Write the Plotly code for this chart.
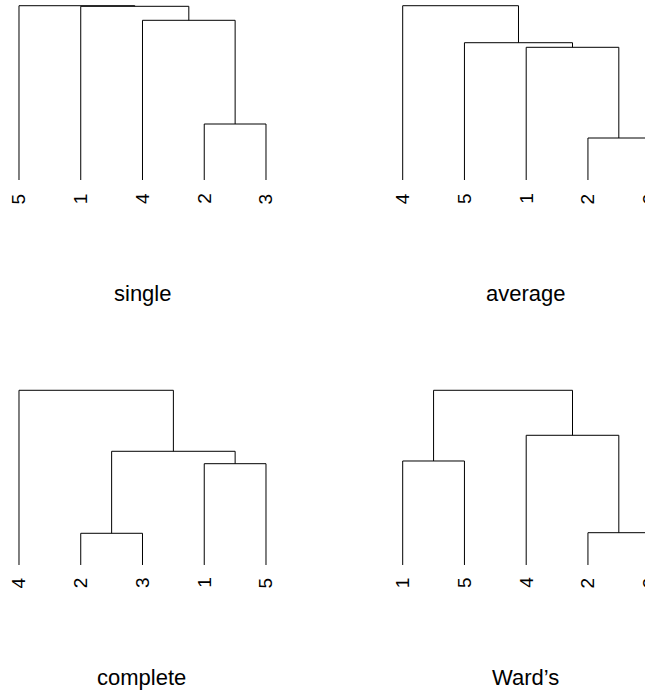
import plotly.graph_objects as go

# ---------------- data (R-style hclust results) ----------------
# merge: negative = singleton leaf label, positive = earlier merge step (1-based)
single_order = [5, 1, 4, 2, 3]
single_merge = [(-2, -3), (-4, 1), (-1, 2), (-5, 3)]
single_height = [56.0, 159.7, 173.7, 174.3]

average_order = [4, 5, 1, 2, 3]
average_merge = [(-2, -3), (-1, 1), (-5, 2), (-4, 3)]
average_height = [42.0, 132.7, 137.3, 174.3]

complete_order = [4, 2, 3, 1, 5]
complete_merge = [(-2, -3), (-1, -5), (1, 2), (-4, 3)]
complete_height = [31.7, 101.3, 113.7, 174.7]

ward_order = [1, 5, 4, 2, 3]
ward_merge = [(-2, -3), (-1, -5), (-4, 1), (2, 3)]
ward_height = [32.3, 104.0, 129.7, 174.7]

titles = ["single", "average", "complete", "Ward\u2019s"]

# ---------------- layout constants (pixels) ----------------
W, H = 645, 690
SP = 61.75          # spacing between leaves
FONT = "Liberation Sans, Arial, Helvetica, sans-serif"
LABEL_SIZE = 19
TITLE_SIZE = 22

panels = [
    dict(order=single_order, merge=single_merge, height=single_height,
         left=19.0, base=180.0, top=5.7, lab=198.5, tx=142.3, ty=293.0),
    dict(order=average_order, merge=average_merge, height=average_height,
         left=402.7, base=180.0, top=5.7, lab=198.5, tx=526.0, ty=293.0),
    dict(order=complete_order, merge=complete_merge, height=complete_height,
         left=19.0, base=565.0, top=390.3, lab=582.5, tx=141.5, ty=677.5),
    dict(order=ward_order, merge=ward_merge, height=ward_height,
         left=402.7, base=565.0, top=390.3, lab=582.5, tx=525.8, ty=677.5),
]

fig = go.Figure()
annotations = []
layout_axes = {}

for i, (p, title) in enumerate(zip(panels, titles), start=1):
    order, merge, hts = p["order"], p["merge"], p["height"]
    pos = {lab: j + 1 for j, lab in enumerate(order)}
    centers = []
    xs, ys = [], []
    for (a, b), h in zip(merge, hts):
        def node(n):
            if n < 0:
                return pos[-n], 0.0
            return centers[n - 1], hts[n - 1]
        xa, ya = node(a)
        xb, yb = node(b)
        if xa > xb:
            xa, ya, xb, yb = xb, yb, xa, ya
        xs += [xa, xa, xb, xb, None]
        ys += [ya, h, h, yb, None]
        centers.append((xa + xb) / 2.0)

    xa_name = "x" if i == 1 else f"x{i}"
    ya_name = "y" if i == 1 else f"y{i}"
    fig.add_trace(go.Scatter(x=xs, y=ys, mode="lines",
                             line=dict(color="black", width=1),
                             xaxis=xa_name, yaxis=ya_name,
                             hoverinfo="skip", showlegend=False))

    # x axis: leaf 1 at p["left"] px
    r0, r1 = 0.7, 5.3
    px0 = p["left"] + (r0 - 1) * SP
    px1 = p["left"] + (r1 - 1) * SP
    if px0 < 0:
        px0 = 0.0
        r0 = 1 + (0 - p["left"]) / SP
    if px1 > W:
        px1 = float(W)
        r1 = 1 + (W - p["left"]) / SP
    d0, d1 = px0 / W, px1 / W

    M = max(hts)
    span = p["base"] - p["top"]
    pb, pt = 0.05, 0.02
    py_bot = p["base"] + pb * span
    py_top = p["top"] - pt * span

    layout_axes["xaxis" if i == 1 else f"xaxis{i}"] = dict(
        domain=[d0, d1], range=[r0, r1], visible=False, fixedrange=True)
    layout_axes["yaxis" if i == 1 else f"yaxis{i}"] = dict(
        domain=[1 - py_bot / H, 1 - py_top / H], range=[-pb * M, (1 + pt) * M],
        visible=False, fixedrange=True)

    for j, lab in enumerate(order, start=1):
        if r0 <= j <= r1:
            ax_x, ax_ref = j, xa_name
        else:
            # leaf beyond the visible axis range: map through the same linear scale
            ax_x = d0 + (j - r0) / (r1 - r0) * (d1 - d0)
            ax_ref = "paper"
        annotations.append(dict(
            x=ax_x, xref=ax_ref, y=1 - p["lab"] / H, yref="paper",
            text=str(lab), showarrow=False, textangle=-90,
            xanchor="center", yanchor="middle",
            font=dict(family=FONT, size=LABEL_SIZE, color="black")))

    annotations.append(dict(
        x=p["tx"] / W, xref="paper", y=1 - p["ty"] / H, yref="paper",
        text=title, showarrow=False, xanchor="center", yanchor="middle",
        font=dict(family=FONT, size=TITLE_SIZE, color="black")))

fig.update_layout(
    width=W, height=H,
    margin=dict(l=0, r=0, t=0, b=0),
    paper_bgcolor="white", plot_bgcolor="white",
    showlegend=False,
    annotations=annotations,
    **layout_axes,
)

fig.write_html("out.html", config={"displayModeBar": False})
